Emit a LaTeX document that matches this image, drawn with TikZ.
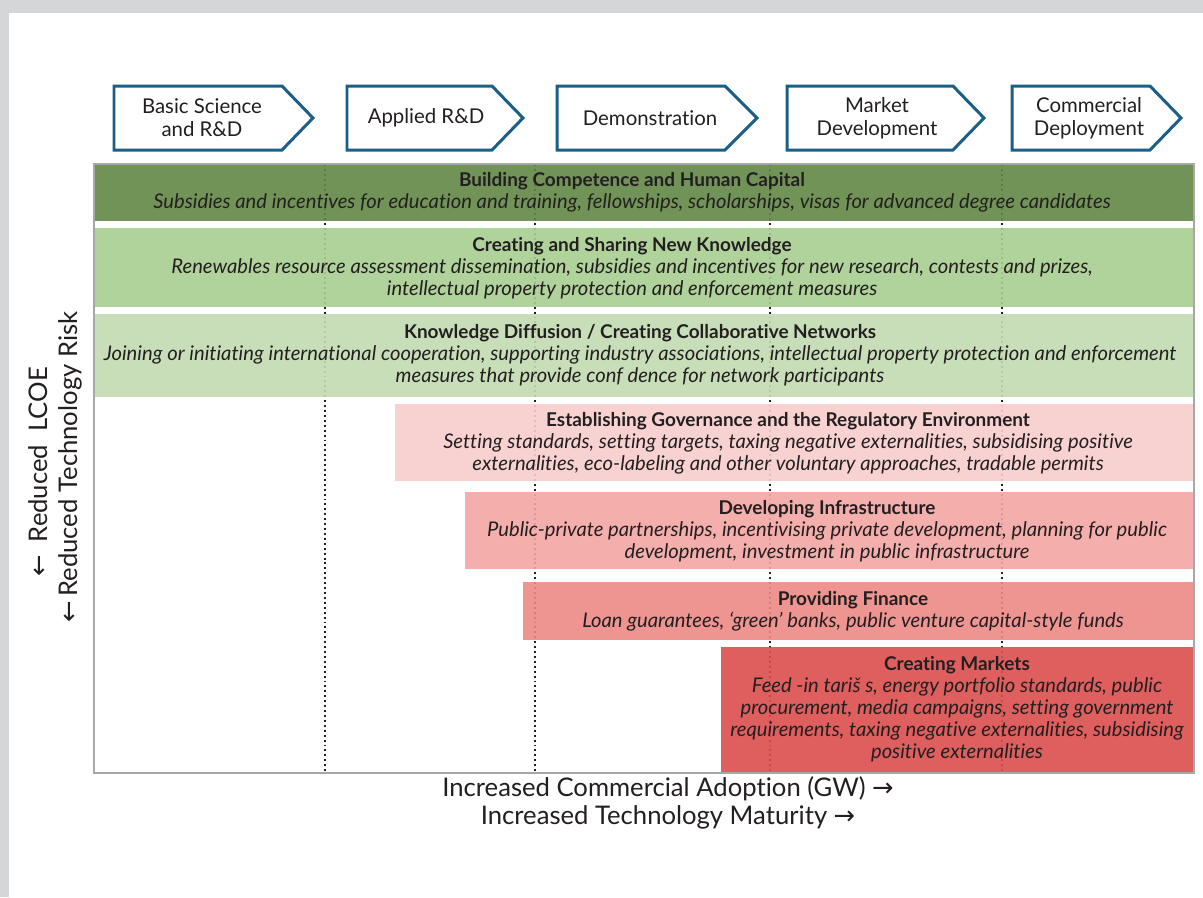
\documentclass[tikz,border=0pt]{standalone}
\usepackage{fontspec}
\setmainfont{Lato}[Ligatures={TeX,NoCommon}]
\newfontfamily\arrowfont{DejaVu Sans}

\definecolor{ink}{HTML}{231F20}
\definecolor{stageblue}{HTML}{1B5E86}
\definecolor{framegray}{HTML}{A6A8AB}
\definecolor{pagegray}{HTML}{D5D6D8}
\definecolor{greenA}{HTML}{628845}
\definecolor{greenB}{HTML}{A8CE91}
\definecolor{greenC}{HTML}{C3DBB2}
\definecolor{redA}{HTML}{F8CECC}
\definecolor{redB}{HTML}{F3A7A5}
\definecolor{redC}{HTML}{ED8986}
\definecolor{redD}{HTML}{DB4E4D}

% one italic line of a band
\newcommand{\bandline}[1]{{\fontsize{11.5}{12.5}\selectfont\itshape #1}}

\tikzset{
  stagearrow/.style={draw=stageblue, line width=1.7pt, fill=white, line join=miter},
  stagetext/.style={align=center, text=ink, inner sep=0pt, font=\fontsize{11.6}{13.1}\selectfont},
  phase/.style={draw=ink, line width=1.1pt, dash pattern=on 1.1pt off 1.7pt},
  band/.style={fill opacity=0.9},
  bandtext/.style={align=center, text=ink, inner sep=0pt, font=\fontsize{10.8}{12.5}\selectfont},
  axislabel/.style={align=center, text=ink, inner sep=0pt, font=\fontsize{14.6}{16}\selectfont}
}

\begin{document}
\begin{tikzpicture}[x=0.02cm, y=-0.02cm]
\useasboundingbox (0,0) rectangle (1203,897);
\fill[pagegray] (0,0) rectangle (1203,897);
\fill[white] (9,13) rectangle (1203,897);

% stages along the top
\foreach \xa/\xb/\xc in {114/282/313,347/492/523,557/725/757,787/953/984,1012/1150/1181}
  \draw[stagearrow] (\xa,86) -- (\xb,86) -- (\xc,118) -- (\xb,150) -- (\xa,150) -- cycle;
\node[stagetext] (basic) at (202,118) {Basic Science\\and R\&D};
\node[stagetext] (applied) at (426,118) {Applied R\&D};
\node[stagetext] (demo) at (650,118) {Demonstration};
\node[stagetext] (market) at (877,118) {Market\\Development};
\node[stagetext] (deploy) at (1089,118) {Commercial\\Deployment};

% phase borders
\foreach \x in {325,535,770,1002}
  \draw[phase] (\x,164) -- (\x,772);

% policy bands
\fill[band, greenA] (95,164) rectangle (1193,221);
\fill[band, greenB] (95,228) rectangle (1193,307);
\fill[band, greenC] (95,314) rectangle (1193,397);
\fill[band, redA] (395,404) rectangle (1193,481);
\fill[band, redB] (465,492) rectangle (1193,569);
\fill[band, redC] (523,582) rectangle (1193,640);
\fill[band, redD] (721,647) rectangle (1193,772);
\draw[framegray, line width=1.1pt] (94,164) rectangle (1194,773);

\node[bandtext] (competence) at (632,192.5) {\textbf{Building Competence and Human Capital}\\
  \bandline{Subsidies and incentives for education and training, fellowships, scholarships, visas for advanced degree candidates}};
\node[bandtext] (knowledge) at (632,268) {\textbf{Creating and Sharing New Knowledge}\\
  \bandline{Renewables resource assessment dissemination, subsidies and incentives for new research, contests and prizes,}\\
  \bandline{intellectual property protection and enforcement measures}};
\node[bandtext] (diffusion) at (640,355) {\textbf{Knowledge Diffusion / Creating Collaborative Networks}\\
  \bandline{Joining or initiating international cooperation, supporting industry associations, intellectual property protection and enforcement}\\
  \bandline{measures that provide conf dence for network participants}};
\node[bandtext] (governance) at (788,443) {\textbf{Establishing Governance and the Regulatory Environment}\\
  \bandline{Setting standards, setting targets, taxing negative externalities, subsidising positive}\\
  \bandline{externalities, eco-labeling and other voluntary approaches, tradable permits}};
\node[bandtext] (infra) at (827,531) {\textbf{Developing Infrastructure}\\
  \bandline{Public-private partnerships, incentivising private development, planning for public}\\
  \bandline{development, investment in public infrastructure}};
\node[bandtext] (finance) at (853,611) {\textbf{Providing Finance}\\
  \bandline{Loan guarantees, `green' banks, public venture capital-style funds}};
\node[bandtext] (markets) at (957,709.5) {\textbf{Creating Markets}\\
  \bandline{Feed -in tariš s, energy portfolio standards, public}\\
  \bandline{procurement, media campaigns, setting government}\\
  \bandline{requirements, taxing negative externalities, subsidising}\\
  \bandline{positive externalities}};

% axes
\node[axislabel] (adoption) at (668,789) {Increased Commercial Adoption (GW)\ {\arrowfont →}};
\node[axislabel] (maturity) at (668,817) {Increased Technology Maturity\ {\arrowfont →}};
\node[axislabel, rotate=90] (lcoe) at (38,472) {{\arrowfont ←}\ \ Reduced\ \ LCOE};
\node[axislabel, rotate=90] (risk) at (70,467) {{\arrowfont ←}\,Reduced Technology Risk};
\end{tikzpicture}
\end{document}
